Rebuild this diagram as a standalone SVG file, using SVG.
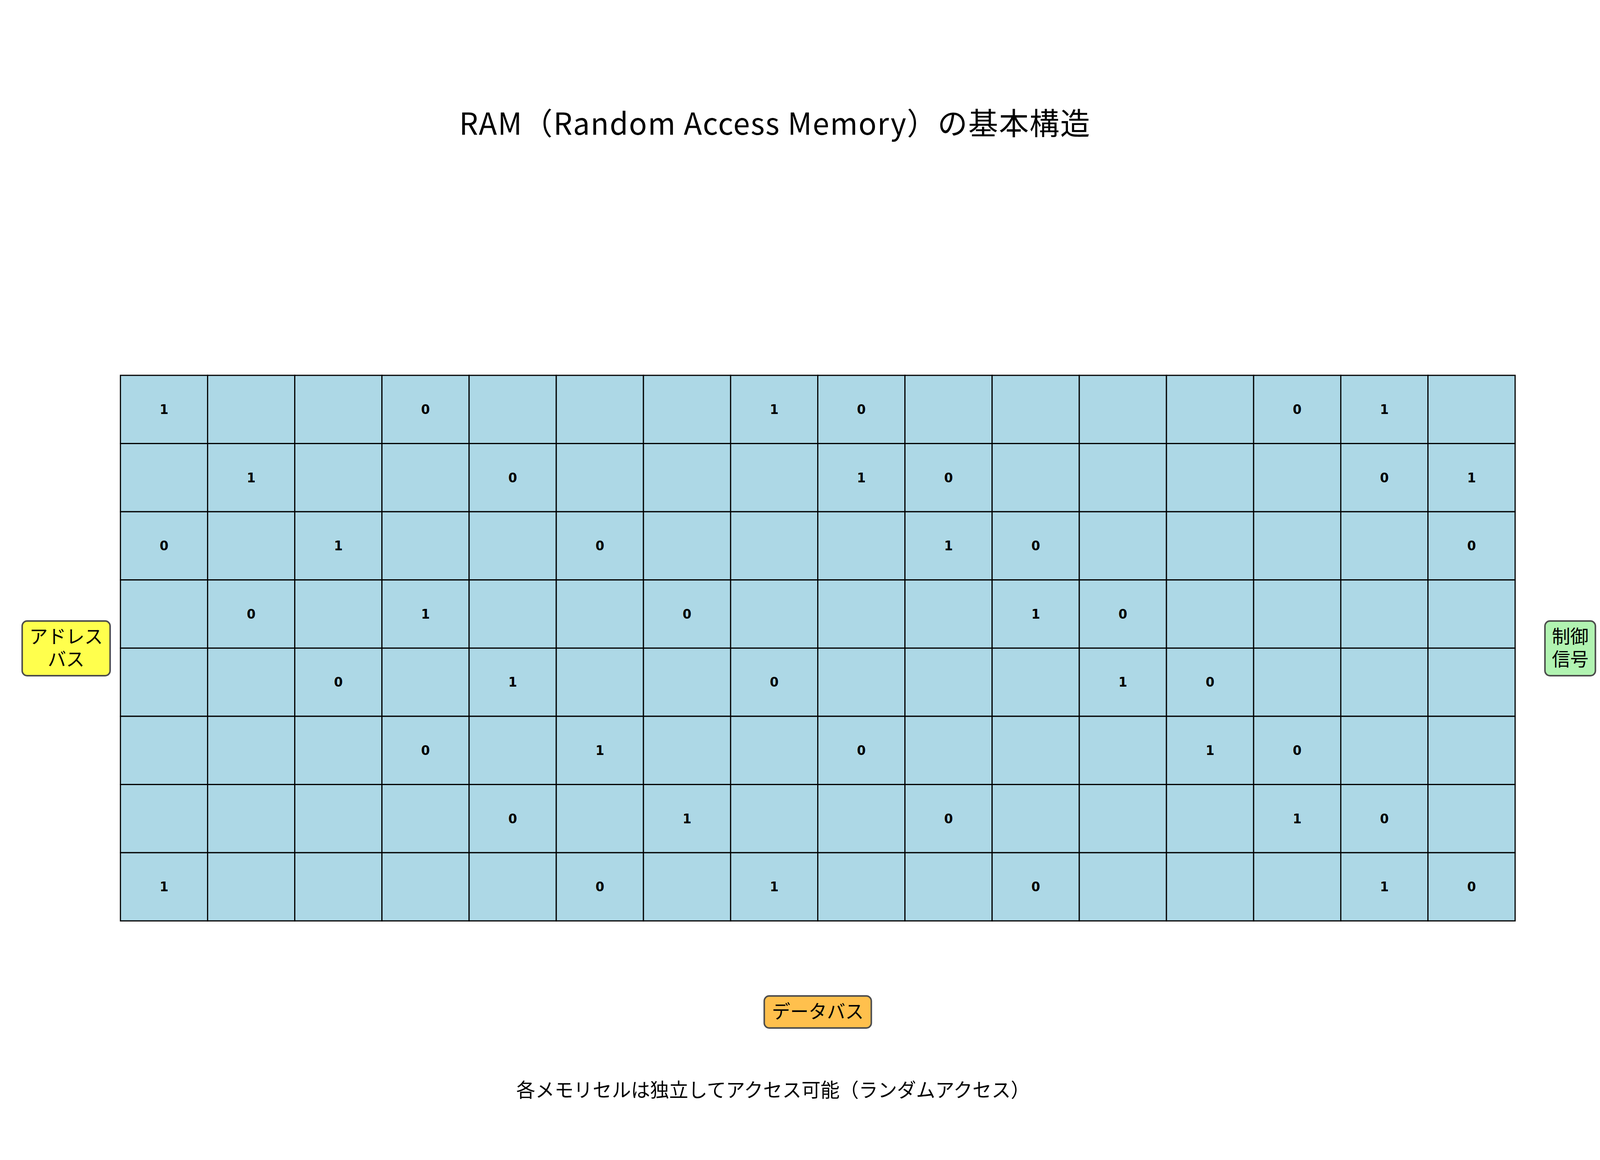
<svg xmlns="http://www.w3.org/2000/svg" width="4185" height="2970" viewBox="0 0 4185 2970" preserveAspectRatio="none">
<style>
svg{width:100vw;height:100vh}
.cell{fill:#ADD8E6;stroke:#000;stroke-width:3}
.bit{font-family:"DejaVu Sans",sans-serif;font-weight:bold;font-size:33px;text-anchor:middle;fill:#000}
.lbl{font-family:"Noto Sans CJK JP",sans-serif;font-size:48px;text-anchor:middle;dominant-baseline:central;fill:#000}
.cap{font-family:"Noto Sans CJK JP",sans-serif;font-size:50px;text-anchor:middle;dominant-baseline:central;fill:#000}
.box{stroke:#4D4D4D;stroke-width:4}
</style>
<defs>
<rect id="c" class="cell" width="228" height="174.6"/>
<g id="rowcells">
<use href="#c" x="315"/><use href="#c" x="543"/><use href="#c" x="771"/><use href="#c" x="999"/><use href="#c" x="1227"/><use href="#c" x="1455"/><use href="#c" x="1683"/><use href="#c" x="1911"/><use href="#c" x="2139"/><use href="#c" x="2367"/><use href="#c" x="2595"/><use href="#c" x="2823"/><use href="#c" x="3051"/><use href="#c" x="3279"/><use href="#c" x="3507"/><use href="#c" x="3735"/>
</g>
</defs>
<rect width="4185" height="2970" fill="#fff"/>
<text id="title" x="2026" y="345" font-family="'Noto Sans CJK JP',sans-serif" font-size="78" text-anchor="middle" textLength="1650" lengthAdjust="spacing" fill="#000">RAM（Random Access Memory）の基本構造</text>
<g id="memory-grid">
<g id="row0" transform="translate(0,961)">
<use href="#rowcells"/>
<text class="bit" x="429" y="99">1</text><text class="bit" x="1113" y="99">0</text><text class="bit" x="2025" y="99">1</text><text class="bit" x="2253" y="99">0</text><text class="bit" x="3393" y="99">0</text><text class="bit" x="3621" y="99">1</text>
</g>
<g id="row1" transform="translate(0,1135.6)">
<use href="#rowcells"/>
<text class="bit" x="657" y="99">1</text><text class="bit" x="1341" y="99">0</text><text class="bit" x="2253" y="99">1</text><text class="bit" x="2481" y="99">0</text><text class="bit" x="3621" y="99">0</text><text class="bit" x="3849" y="99">1</text>
</g>
<g id="row2" transform="translate(0,1310.2)">
<use href="#rowcells"/>
<text class="bit" x="429" y="99">0</text><text class="bit" x="885" y="99">1</text><text class="bit" x="1569" y="99">0</text><text class="bit" x="2481" y="99">1</text><text class="bit" x="2709" y="99">0</text><text class="bit" x="3849" y="99">0</text>
</g>
<g id="row3" transform="translate(0,1484.8)">
<use href="#rowcells"/>
<text class="bit" x="657" y="99">0</text><text class="bit" x="1113" y="99">1</text><text class="bit" x="1797" y="99">0</text><text class="bit" x="2709" y="99">1</text><text class="bit" x="2937" y="99">0</text>
</g>
<g id="row4" transform="translate(0,1659.4)">
<use href="#rowcells"/>
<text class="bit" x="885" y="99">0</text><text class="bit" x="1341" y="99">1</text><text class="bit" x="2025" y="99">0</text><text class="bit" x="2937" y="99">1</text><text class="bit" x="3165" y="99">0</text>
</g>
<g id="row5" transform="translate(0,1834)">
<use href="#rowcells"/>
<text class="bit" x="1113" y="99">0</text><text class="bit" x="1569" y="99">1</text><text class="bit" x="2253" y="99">0</text><text class="bit" x="3165" y="99">1</text><text class="bit" x="3393" y="99">0</text>
</g>
<g id="row6" transform="translate(0,2008.6)">
<use href="#rowcells"/>
<text class="bit" x="1341" y="99">0</text><text class="bit" x="1797" y="99">1</text><text class="bit" x="2481" y="99">0</text><text class="bit" x="3393" y="99">1</text><text class="bit" x="3621" y="99">0</text>
</g>
<g id="row7" transform="translate(0,2183.2)">
<use href="#rowcells"/>
<text class="bit" x="429" y="99">1</text><text class="bit" x="1569" y="99">0</text><text class="bit" x="2025" y="99">1</text><text class="bit" x="2709" y="99">0</text><text class="bit" x="3621" y="99">1</text><text class="bit" x="3849" y="99">0</text>
</g>
</g>
<g id="address-bus">
<rect class="box" x="58" y="1590" width="230" height="140" rx="13" fill="#FFFF4D"/>
<text class="lbl"><tspan x="173" y="1626">アドレス</tspan><tspan x="173" y="1684">バス</tspan></text>
</g>
<g id="control-signal">
<rect class="box" x="4041" y="1590" width="132" height="140" rx="13" fill="#B1F3B1"/>
<text class="lbl"><tspan x="4107" y="1626">制御</tspan><tspan x="4107" y="1684">信号</tspan></text>
</g>
<g id="data-bus">
<rect class="box" x="1999" y="2550" width="280" height="82" rx="13" fill="#FFC04D"/>
<text class="lbl" x="2139" y="2586">データバス</text>
</g>
<g id="connectors"></g>
<text id="caption" class="cap" x="2022" y="2787">各メモリセルは独立してアクセス可能（ランダムアクセス）</text>
</svg>
